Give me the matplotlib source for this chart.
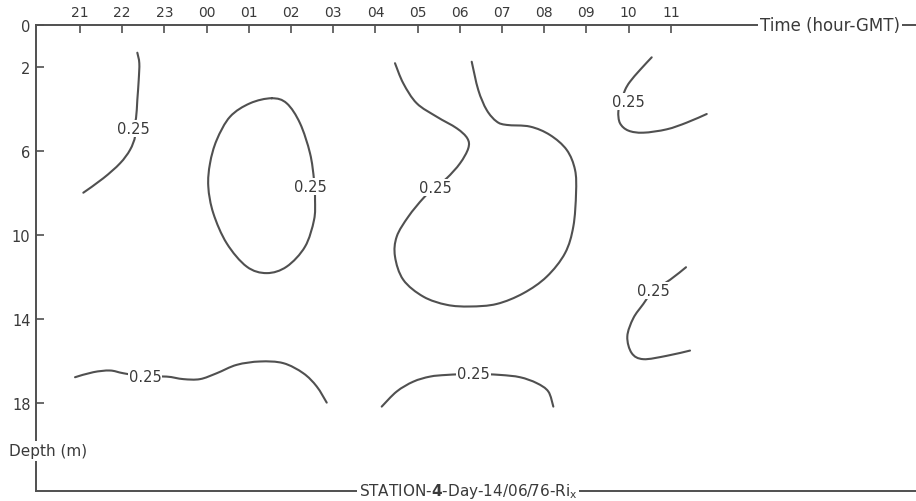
import matplotlib
matplotlib.use("Agg")
import matplotlib.pyplot as plt
import numpy as np
from matplotlib.path import Path
from matplotlib.patches import PathPatch

# ---- data (time index: 0 = 21h GMT, 1 = 22h, ... 14 = 11h; depth in m) ----
hour_labels = ["21", "22", "23", "00", "01", "02", "03", "04", "05", "06", "07", "08", "09", "10", "11"]
depth_ticks = [0, 2, 6, 10, 14, 18]
level = "0.25"

c1_t = [1.358, 1.405, 1.391, 1.358, 1.327, 1.263, 1.303, 1.185, 0.948, 0.552, 0.078]
c1_d = [1.32, 1.82, 2.62, 3.57, 4.44, 4.92, 5.32, 5.95, 6.59, 7.30, 7.99]

c2_t = [4.543, 4.898, 5.213, 5.450, 5.545, 5.569, 5.545, 5.332, 4.898, 4.424, 3.950,
        3.476, 3.159, 3.040, 3.081, 3.239, 3.555, 4.028, 4.543]
c2_d = [3.49, 3.73, 4.68, 6.11, 7.38, 8.33, 9.29, 10.56, 11.51, 11.82, 11.51,
        10.40, 8.97, 7.70, 6.59, 5.48, 4.37, 3.73, 3.49]

c3_t = [7.464, 7.661, 7.979, 8.453, 8.927, 9.178, 9.201, 9.005, 8.690, 8.412, 8.135,
        7.780, 7.505, 7.464, 7.661, 8.135, 8.690, 9.242, 9.874, 10.505, 11.059,
        11.493, 11.690, 11.754, 11.730, 11.533, 11.137, 10.664, 10.111, 9.874,
        9.637, 9.438, 9.282]
c3_d = [1.82, 2.78, 3.73, 4.37, 4.92, 5.40, 5.87, 6.59, 7.30, 7.73, 8.25,
        9.13, 10.08, 11.03, 12.14, 12.94, 13.33, 13.41, 13.29, 12.78, 11.99,
        10.87, 9.60, 8.01, 6.90, 5.95, 5.24, 4.84, 4.76, 4.60,
        4.05, 3.10, 1.75]

c4_t = [13.547, 13.270, 13.033, 12.915, 12.820, 12.756, 12.796, 12.993, 13.348, 13.903, 14.377, 14.851]
c4_d = [1.54, 2.14, 2.70, 3.10, 3.65, 4.13, 4.68, 5.03, 5.13, 4.97, 4.65, 4.24]

c5_t = [14.360, 13.981, 13.585, 13.348, 13.111, 12.969, 13.073, 13.348, 13.903, 14.455]
c5_d = [11.54, 12.14, 12.65, 13.29, 13.97, 14.84, 15.63, 15.92, 15.76, 15.51]

c6_t = [-0.118, 0.315, 0.711, 1.026, 1.540, 2.054, 2.448, 2.844, 3.239, 3.713,
        4.265, 4.818, 5.291, 5.609, 5.846]
c6_d = [16.78, 16.54, 16.46, 16.59, 16.75, 16.75, 16.87, 16.87, 16.59, 16.19,
        16.03, 16.11, 16.59, 17.22, 17.99]

c7_t = [7.149, 7.505, 7.898, 8.294, 8.690, 9.320, 9.953, 10.427, 10.822, 11.097, 11.216]
c7_d = [18.18, 17.46, 16.99, 16.75, 16.67, 16.62, 16.67, 16.78, 17.06, 17.46, 18.18]

# label positions (time, depth)
label_t = [1.263, 5.45, 8.412, 12.993, 13.585, 1.540, 9.320]
label_d = [4.92, 7.71, 7.73, 3.65, 12.65, 16.75, 16.62]


def smooth_path(t, d, closed=False):
    """Pass a smooth (Catmull-Rom as cubic Bezier) curve through the read points."""
    p = np.column_stack([t, d]).astype(float)
    if closed:
        p = p[:-1]
    n = len(p)
    verts = [p[0]]
    codes = [Path.MOVETO]
    segs = n if closed else n - 1
    for i in range(segs):
        if closed:
            p0, p1, p2, p3 = p[(i - 1) % n], p[i], p[(i + 1) % n], p[(i + 2) % n]
        else:
            p1, p2 = p[i], p[i + 1]
            p0 = p[i - 1] if i > 0 else p1
            p3 = p[i + 2] if i + 2 < n else p2
        verts += [p1 + (p2 - p0) / 6.0, p2 - (p3 - p1) / 6.0, p2]
        codes += [Path.CURVE4] * 3
    return Path(verts, codes)


# ---- figure ----
W, H = 916, 502
fig = plt.figure(figsize=(W / 100, H / 100), dpi=100)
ax = fig.add_axes([36 / W, 10 / H, (W - 36) / W, 466 / H])

line_col = "#505050"
text_col = "#3a3a3a"

curves = [(c1_t, c1_d, False), (c2_t, c2_d, True), (c3_t, c3_d, False), (c4_t, c4_d, False),
          (c5_t, c5_d, False), (c6_t, c6_d, False), (c7_t, c7_d, False)]
for t, d, closed in curves:
    ax.add_patch(PathPatch(smooth_path(t, d, closed), facecolor="none", edgecolor=line_col,
                           lw=1.5, capstyle="round", joinstyle="round"))

for t, d in zip(label_t, label_d):
    ax.text(t, d, level, ha="center", va="center", fontsize=10.5, color=text_col,
            bbox=dict(facecolor="white", edgecolor="none", pad=0.6))

ax.set_xlim(-1.043, 19.81)
ax.set_ylim(22.2, 0)

ax.xaxis.tick_top()
ax.set_xticks(range(len(hour_labels)))
ax.set_xticklabels(hour_labels)
ax.set_yticks(depth_ticks)
ax.set_yticklabels([str(v) for v in depth_ticks])
ax.tick_params(axis="x", direction="in", length=6, width=1.2, colors=line_col,
               labelcolor=text_col, labelsize=10, pad=4)
ax.tick_params(axis="y", direction="in", length=6, width=1.2, colors=line_col,
               labelcolor=text_col, labelsize=10.5, pad=4)

for s in ["top", "bottom", "left"]:
    ax.spines[s].set_color(line_col)
    ax.spines[s].set_linewidth(1.4)
ax.spines["right"].set_visible(False)

fig.text(760 / W, 1 - 26 / H, "Time (hour-GMT)", ha="left", va="center",
         fontsize=12, color=text_col,
         bbox=dict(facecolor="white", edgecolor="none", pad=1.5))
fig.text(468 / W, 1 - 492 / H, r"STATION-$\mathbf{4}$-Day-14/06/76-Ri$_\mathregular{x}$",
         ha="center", va="center", fontsize=11, color=text_col,
         bbox=dict(facecolor="white", edgecolor="none", pad=1.5))
fig.text(9 / W, 1 - 452 / H, "Depth (m)", ha="left", va="center",
         fontsize=11, color=text_col,
         bbox=dict(facecolor="white", edgecolor="none", pad=1.5))

fig.savefig("out.png", dpi=100, facecolor="white")
